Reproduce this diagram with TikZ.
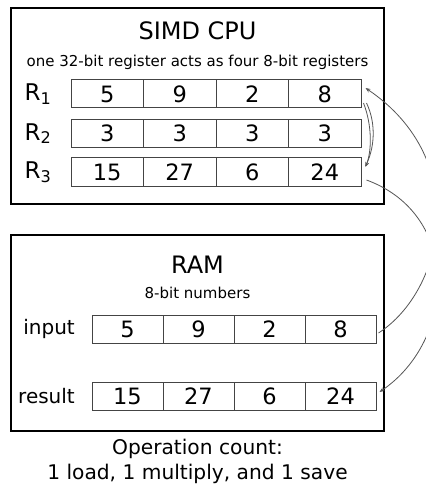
\documentclass[tikz,border=0pt]{standalone}
\usepackage{fontspec}
\setmainfont{DejaVu Sans}
\usetikzlibrary{arrows.meta}
\definecolor{cellgray}{HTML}{444444}
\definecolor{wiregray}{HTML}{555555}
\tikzset{
  frame/.style={draw=black, line width=2pt, inner sep=0pt},
  cell/.style={draw=cellgray, line width=1pt, inner sep=0pt, minimum height=28pt,
    font=\fontsize{22.5}{26}\selectfont},
  cpucell/.style={cell, minimum width=72.5pt},
  ramcell/.style={cell, minimum width=71pt},
  reglabel/.style={font=\fontsize{23}{26}\selectfont, inner sep=0pt},
  ramlabel/.style={font=\fontsize{20}{24}\selectfont, inner sep=0pt, anchor=east},
  title/.style={font=\fontsize{24}{28}\selectfont, inner sep=0pt},
  subtitle/.style={font=\fontsize{15}{18}\selectfont, inner sep=0pt},
  caption/.style={font=\fontsize{20.2}{24}\selectfont, inner sep=0pt},
  wire/.style={draw=wiregray, line width=0.8pt, -{Stealth[length=5pt,width=4pt]}}
}
\begin{document}
\begin{tikzpicture}[x=1pt,y=-1pt]
\useasboundingbox (0,0) rectangle (425,486);
\fill[white] (0,0) rectangle (425,486);
% CPU box
\node[frame, minimum width=373pt, minimum height=196pt] (cpu) at (197.5,106) {};
\node[title] (cputitle) at (197.5,31) {SIMD CPU};
\node[subtitle] (cpusub) at (197.5,62) {one 32-bit register acts as four 8-bit registers};
% registers
\foreach \r/\y/\a/\b/\c/\d in {1/94/5/9/2/8, 2/133.5/3/3/3/3, 3/172/15/27/6/24}{
  \node[cpucell] (r\r a) at (107.25,\y) {\a};
  \node[cpucell] (r\r b) at (179.75,\y) {\b};
  \node[cpucell] (r\r c) at (252.25,\y) {\c};
  \node[cpucell] (r\r d) at (324.75,\y) {\d};
  \node[reglabel] (lab\r) at (38,\y) {R$_{\fontsize{15}{18}\selectfont\mathrm{\r}}$};
}
% RAM box
\node[frame, minimum width=373pt, minimum height=196pt] (ram) at (197.5,333) {};
\node[title] (ramtitle) at (197.5,265) {RAM};
\node[subtitle] (ramsub) at (197.5,293) {8-bit numbers};
\foreach \n/\y/\a/\b/\c/\d in {in/329/5/9/2/8, res/396/15/27/6/24}{
  \node[ramcell] (\n a) at (127.5,\y) {\a};
  \node[ramcell] (\n b) at (198.5,\y) {\b};
  \node[ramcell] (\n c) at (269.5,\y) {\c};
  \node[ramcell] (\n d) at (340.5,\y) {\d};
}
\node[ramlabel] (inlab) at (75,329) {input};
\node[ramlabel] (reslab) at (75,396) {result};
% caption
\node[caption] (cap1) at (197.5,449) {Operation count:};
\node[caption] (cap2) at (197.5,474) {1 load, 1 multiply, and 1 save};
% connectors
\draw[wire] ([shift={(2,4)}]ind.east) .. controls (445,290) and (472,160) .. ([shift={(4,-6)}]r1d.east);
\draw[wire] ([shift={(5,8)}]r3d.east) .. controls (462,215) and (456,340) .. ([shift={(3,-4)}]resd.east);
\draw[wire] ([shift={(2,9)}]r1d.east) .. controls (372,125) and (372,150) .. ([shift={(4,-5)}]r3d.east);
\draw[draw=wiregray, line width=0.8pt] ([shift={(5,9)}]r1d.east) .. controls (377,125) and (374,150) .. ([shift={(4,-6)}]r3d.east);
\end{tikzpicture}
\end{document}
